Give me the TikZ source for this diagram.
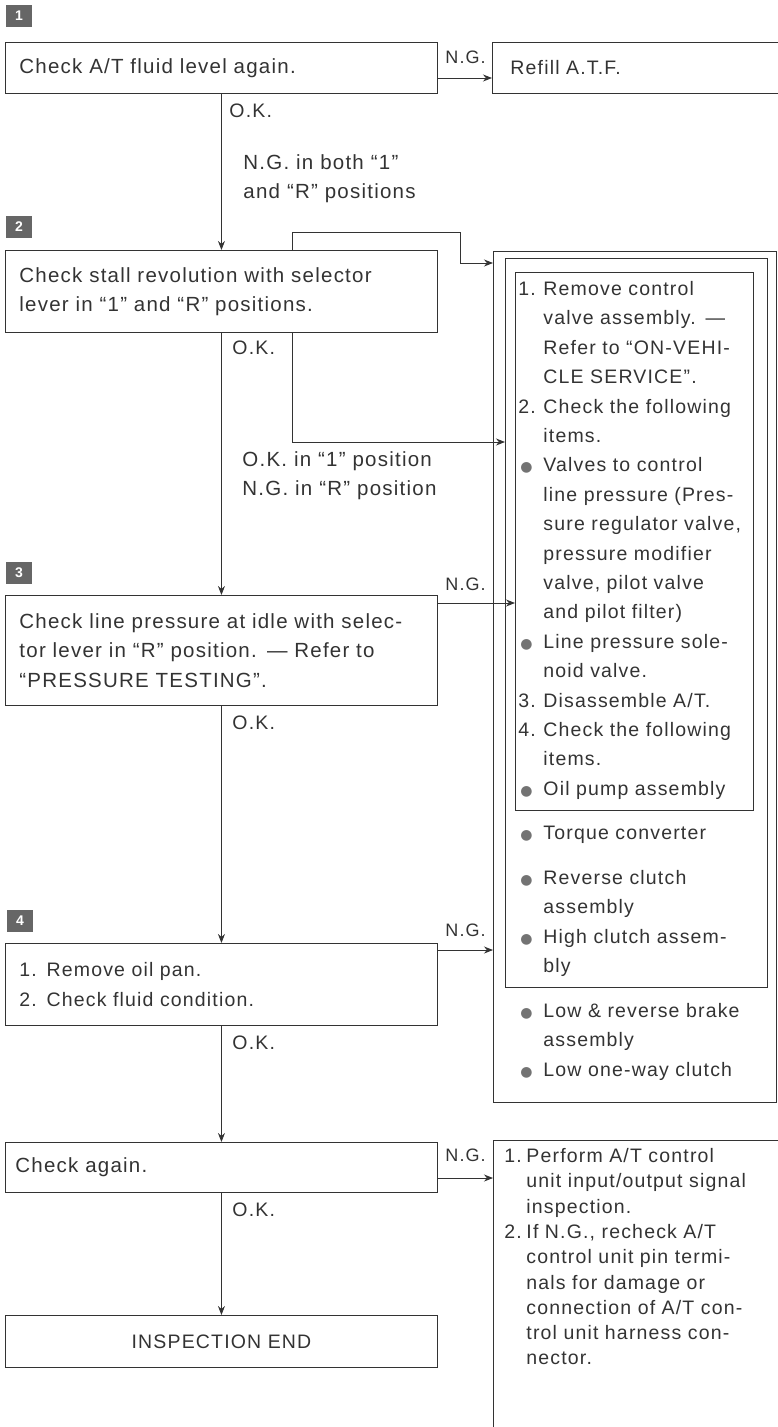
\documentclass[tikz,border=0pt]{standalone}
\usepackage{fontspec}
\setmainfont{Liberation Sans}[LetterSpace=6]
\newfontfamily\symfont{DejaVu Sans}
\usetikzlibrary{arrows.meta, calc}

\newcommand\lb[1]{\makebox[25pt][l]{#1}}
\newcommand\lc[1]{\makebox[22pt][l]{#1}}
\newcommand\bul{\hspace{2pt}{\symfont\fontsize{14}{14}\selectfont\textcolor{black!55}{●}}}

\begin{document}
\begin{tikzpicture}[
  x=1pt, y=-1pt, line width=0.9pt, color=black!80,
  font=\fontsize{19.5}{29.4}\selectfont, >={Stealth[length=9pt, width=7pt]},
  big/.style={font=\fontsize{20.5}{29.4}\selectfont},
  box/.style={draw, anchor=north west, minimum width=432pt, text width=404pt, inner xsep=14pt, align=left},
  frame/.style={draw, anchor=north west, inner sep=0pt},
  numbox/.style={fill=black!60, text=white, font=\fontsize{14}{14}\selectfont\bfseries, minimum width=26pt, minimum height=22pt, inner sep=0pt},
  lbl/.style={anchor=west, inner sep=0pt},
  lst/.style={anchor=north west, inner sep=0pt, align=left, text width=240pt}
]
\useasboundingbox (0,0) rectangle (778,1427);

% left column: the checks
\node[numbox] (n1) at (19,16) {1};
\node[box, big, minimum height=51pt] (lvl) at (5,42) {Check A/T fluid level again.};
\node[box, minimum width=300pt, text width=264pt, inner xsep=18pt, minimum height=51pt] (refill) at (492,42) {Refill A.T.F.};

\node[numbox] (n2) at (19,227) {2};
\node[box, big, minimum height=82pt] (stall) at (5,250) {Check stall revolution with selector\\lever in ``1'' and ``R'' positions.};

\node[numbox] (n3) at (19,573) {3};
\node[box, big, minimum height=110pt] (press) at (5,595) {Check line pressure at idle with selec-\\tor lever in ``R'' position. --- Refer to\\``PRESSURE TESTING''.};

\node[numbox] (n4) at (20,921) {4};
\node[box, minimum height=82pt] (pan) at (5,943) {1. Remove oil pan.\\2. Check fluid condition.};

\node[box, big, minimum height=50pt, inner xsep=10pt, text width=412pt] (again) at (5,1142) {Check again.};
\node[box, minimum height=52pt, align=center] (fin) at (5,1315) {INSPECTION END};

% right column: nested repair boxes
\node[frame, minimum width=283pt, minimum height=851pt] (outer) at (493,251) {};
\node[frame, minimum width=262pt, minimum height=729pt] (mid) at (505,258) {};
\node[frame, minimum width=238pt, minimum height=538pt] (inner) at (515,272) {};

\node[lst] (items) at (518,281) {\lb{1.}Remove control\\
\lb{}valve assembly. ---\\
\lb{}Refer to ``ON-VEHI-\\
\lb{}CLE SERVICE''.\\
\lb{2.}Check the following\\
\lb{}items.\\
\lb{\bul}Valves to control\\
\lb{}line pressure (Pres-\\
\lb{}sure regulator valve,\\
\lb{}pressure modifier\\
\lb{}valve, pilot valve\\
\lb{}and pilot filter)\\
\lb{\bul}Line pressure sole-\\
\lb{}noid valve.\\
\lb{3.}Disassemble A/T.\\
\lb{4.}Check the following\\
\lb{}items.\\
\lb{\bul}Oil pump assembly};
\node[lst] (torque) at (518,826) {\lb{\bul}Torque converter};
\node[lst] (clutch) at (518,870) {\lb{\bul}Reverse clutch\\
\lb{}assembly\\
\lb{\bul}High clutch assem-\\
\lb{}bly};
\node[lst] (brake) at (518,1003) {\lb{\bul}Low \& reverse brake\\
\lb{}assembly\\
\lb{\bul}Low one-way clutch};

\node[frame, minimum width=300pt, minimum height=300pt] (sigbox) at (493,1140) {};
\node[lst, font=\fontsize{19.5}{25.3}\selectfont] (sigtext) at (504,1148) {\lc{1.}Perform A/T control\\
\lc{}unit input/output signal\\
\lc{}inspection.\\
\lc{2.}If N.G., recheck A/T\\
\lc{}control unit pin termi-\\
\lc{}nals for damage or\\
\lc{}connection of A/T con-\\
\lc{}trol unit harness con-\\
\lc{}nector.};

% labels
\node[lbl, font=\fontsize{18}{18}\selectfont] (ng1) at (445,57) {N.G.};
\node[lbl] (ok1) at (229,111) {O.K.};
\node[lbl, big, anchor=north west, align=left] (ngboth) at (243,154) {N.G. in both ``1''\\and ``R'' positions};
\node[lbl] (ok2) at (232,348) {O.K.};
\node[lbl, big, anchor=north west, align=left] (okng) at (242,451) {O.K. in ``1'' position\\N.G. in ``R'' position};
\node[lbl, font=\fontsize{18}{18}\selectfont] (ng3) at (445,584) {N.G.};
\node[lbl] (ok3) at (232,723) {O.K.};
\node[lbl, font=\fontsize{18}{18}\selectfont] (ng4) at (445,930) {N.G.};
\node[lbl] (ok4) at (232,1043) {O.K.};
\node[lbl, font=\fontsize{18}{18}\selectfont] (ng5) at (445,1155) {N.G.};
\node[lbl] (ok5) at (232,1210) {O.K.};

% connectors
\coordinate (p1) at ($(lvl.north east)+(0,36)$);
\coordinate (p3) at ($(press.north east)+(0,8)$);
\coordinate (p4) at ($(pan.north east)+(0,7)$);
\coordinate (p5) at ($(again.north east)+(0,36)$);

\draw[->] (p1) -- (p1 -| refill.west);
\draw[->] (lvl) -- (stall);
\draw[->] ([xshift=71pt]stall.north) |- (460,232) |- ([yshift=-12pt]outer.north west);
\draw[->] ([xshift=71pt]stall.south) |- ([yshift=-184pt]mid.north west);
\draw[->] (stall) -- (press);
\draw[->] (p3) -- (p3 -| inner.west);
\draw[->] (press) -- (pan);
\draw[->] (p4) -- (p4 -| outer.west);
\draw[->] (pan) -- (again);
\draw[->] (p5) -- (p5 -| sigbox.west);
\draw[->] (again) -- (fin);
\end{tikzpicture}
\end{document}
